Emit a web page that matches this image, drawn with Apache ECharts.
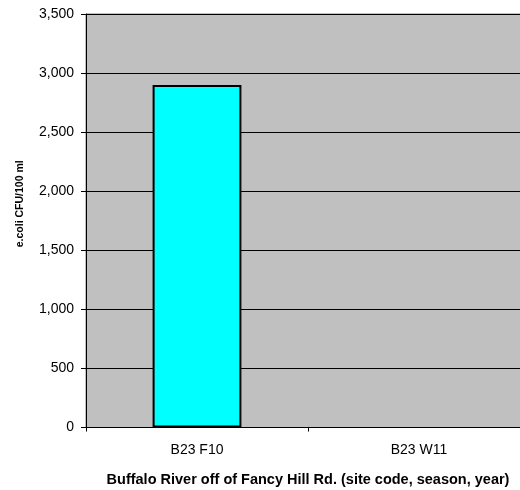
<!DOCTYPE html>
<html><head><meta charset="utf-8">
<script src="https://cdn.jsdelivr.net/npm/echarts@6/dist/echarts.min.js"></script>
<style>html,body{margin:0;padding:0;background:#fff}#c{width:520px;height:490px}</style>
</head><body><div id="c"></div>
<script>
const categories = ['B23 F10', 'B23 W11'];
const values = [2900, null];
const yTicks = [0, 500, 1000, 1500, 2000, 2500, 3000, 3500];

const chart = echarts.init(document.getElementById('c'), null, {renderer: 'canvas'});
chart.setOption({
  animation: false,
  backgroundColor: '#ffffff',
  grid: {left: 86, top: 14, width: 444, height: 413.5, show: true, backgroundColor: '#c0c0c0', borderColor: '#808080', borderWidth: 1, containLabel: false, outerBoundsMode: 'none'},
  xAxis: {
    type: 'category', data: categories,
    name: 'Buffalo River off of Fancy Hill Rd. (site code, season, year)',
    nameLocation: 'middle', nameGap: 45,
    nameTextStyle: {fontFamily: 'Liberation Sans, Arial', fontWeight: 'bold', fontSize: 14.5, color: '#000'},
    axisLine: {lineStyle: {color: '#000', width: 1}},
    axisTick: {show: true, length: 4, lineStyle: {color: '#000'}},
    axisLabel: {fontFamily: 'Liberation Sans, Arial', fontSize: 14, color: '#000', margin: 16},
    splitLine: {show: false}
  },
  yAxis: {
    type: 'value', min: 0, max: 3500, interval: 500,
    name: 'e.coli CFU/100 ml', nameLocation: 'middle', nameGap: 60, nameRotate: 90,
    nameTextStyle: {fontFamily: 'Liberation Sans, Arial', fontWeight: 'bold', fontSize: 10.5, color: '#000', padding: [0, 0, 0, 34]},
    axisLine: {show: true, lineStyle: {color: '#000', width: 1}},
    axisTick: {show: true, length: 5, lineStyle: {color: '#000'}},
    axisLabel: {fontFamily: 'Liberation Sans, Arial', fontSize: 14, color: '#000', margin: 12,
      formatter: v => yTicks.includes(v) ? v.toLocaleString('en-US') : ''},
    splitLine: {show: true, lineStyle: {color: '#000', width: 1}}
  },
  series: [{
    type: 'bar', data: values, barWidth: '40%',
    itemStyle: {color: '#00ffff', borderColor: '#000', borderWidth: 2}
  }]
});
</script></body></html>
